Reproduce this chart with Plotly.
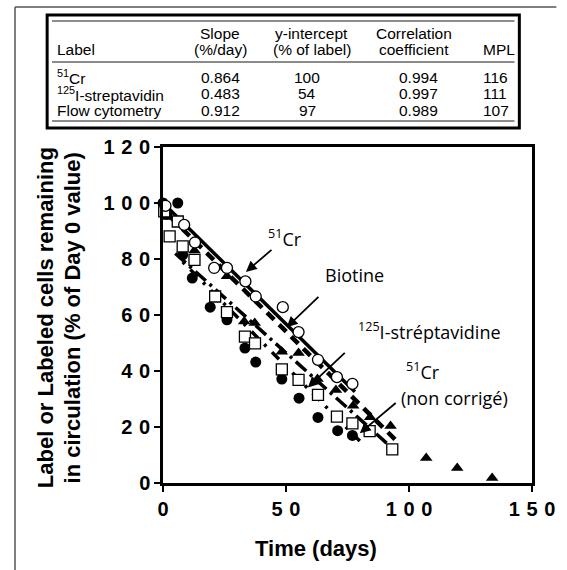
import plotly.graph_objects as go

# ---------------- data ----------------
cr_x = [1, 8.6, 13, 20.8, 26, 33.5, 37.7, 48.7, 55.1, 63, 70.7, 77]
cr_y = [99, 92.2, 85.9, 76.8, 76.8, 72, 66.6, 62.8, 53.9, 44, 37.8, 35.4]
bio_x = [0.5, 2, 12.8, 26, 33, 37.3, 48.3, 55.1, 62.8, 70.3, 77.3, 84.2, 92.5, 107, 119.6, 133.8]
bio_y = [99, 95, 83, 73.8, 57.7, 57.1, 46.9, 46.4, 37.1, 33.2, 27.6, 23.5, 20.4, 8.9, 5.4, 1.8]
sa_x = [0.5, 2.7, 6, 8, 12.8, 21.2, 26, 33.3, 37.4, 48.3, 55.1, 63, 70.7, 77, 84, 93.2]
sa_y = [97, 88.1, 93.4, 84.5, 79.7, 66.6, 61, 52.3, 49.9, 40.6, 36.8, 31.5, 23.7, 21.3, 18.5, 12]
nc_x = [0, 1.5, 6, 8, 11.9, 19.2, 26, 33.3, 37.7, 48.3, 55.3, 63, 71, 77]
nc_y = [100, 96, 100, 81.5, 73.2, 62.8, 58.3, 48.2, 43.2, 37.1, 30.3, 23.4, 18.7, 17]

# regression lines (end points)
cr_fit_x, cr_fit_y = [0, 78], [100, 32.6]
bio_fit_x, bio_fit_y = [3, 95], [95, 15]
sa_fit_x, sa_fit_y = [5, 95], [82, 11]
nc_fit_x, nc_fit_y = [8, 80], [79, 15]

x_ticks = [0, 50, 100, 150]
y_ticks = [0, 20, 40, 60, 80, 100, 120]

tbl_head1 = ["", "Slope", "y-intercept", "Correlation", ""]
tbl_head2 = ["Label", "(%/day)", "(% of label)", "coefficient", "MPL"]
tbl_labels = ["<sup>51</sup>Cr", "<sup>125</sup>I-streptavidin", "Flow cytometry"]
tbl_slope = ["0.864", "0.483", "0.912"]
tbl_intercept = ["100", "54", "97"]
tbl_corr = ["0.994", "0.997", "0.989"]
tbl_mpl = ["116", "111", "107"]

# ---------------- layout helpers ----------------
FW, FH = 567, 570
L, T, W, H = 163, 147, 379, 336


def px(x):
    return (x - L) / W


def py(y):
    return (T + H - y) / H


def spaced(s):
    return "\u2004".join(list(s))


fig = go.Figure()

fig.add_trace(go.Scatter(x=cr_fit_x, y=cr_fit_y, mode="lines",
                         line=dict(color="black", width=3.5), showlegend=False))
fig.add_trace(go.Scatter(x=bio_fit_x, y=bio_fit_y, mode="lines",
                         line=dict(color="black", width=4.5, dash="10px,7px"), showlegend=False))
fig.add_trace(go.Scatter(x=sa_fit_x, y=sa_fit_y, mode="lines",
                         line=dict(color="black", width=3.5, dash="14px,5px,3px,5px"), showlegend=False))
fig.add_trace(go.Scatter(x=nc_fit_x, y=nc_fit_y, mode="lines",
                         line=dict(color="black", width=3.5, dash="3px,8px,10px,8px"), showlegend=False))

fig.add_trace(go.Scatter(x=nc_x, y=nc_y, mode="markers", cliponaxis=False,
                         marker=dict(symbol="circle", size=11, color="black"), showlegend=False))
fig.add_trace(go.Scatter(x=bio_x, y=bio_y, mode="markers", cliponaxis=False,
                         marker=dict(symbol="triangle-up", size=11, color="black"), showlegend=False))
fig.add_trace(go.Scatter(x=sa_x, y=sa_y, mode="markers", cliponaxis=False,
                         marker=dict(symbol="square", size=11, color="white",
                                     line=dict(color="black", width=1.3)), showlegend=False))
fig.add_trace(go.Scatter(x=cr_x, y=cr_y, mode="markers", cliponaxis=False,
                         marker=dict(symbol="circle", size=11, color="white",
                                     line=dict(color="black", width=1.3)), showlegend=False))

tickfont = dict(family="Liberation Sans", size=20, color="black", weight="bold")
axis_common = dict(showline=True, linecolor="black", linewidth=2.5, mirror=True,
                   ticks="outside", ticklen=6, tickwidth=2, tickcolor="black",
                   showgrid=False, zeroline=False, tickfont=tickfont)

fig.update_layout(
    width=FW, height=FH,
    margin=dict(l=L, r=FW - L - W, t=T, b=FH - T - H),
    paper_bgcolor="white", plot_bgcolor="white",
    xaxis=dict(range=[0, 150], tickvals=x_ticks, ticktext=[spaced(str(v)) for v in x_ticks],
               **axis_common),
    yaxis=dict(range=[0, 120], tickvals=y_ticks, ticktext=[spaced(str(v)) for v in y_ticks],
               **axis_common),
)

ann = []
shapes = []

# axis titles
title_font = dict(family="Liberation Sans", size=22, color="black", weight="bold")
ann.append(dict(text="Time (days)", x=px(320), y=py(548), xref="paper", yref="paper",
                showarrow=False, font=title_font, xanchor="center", yanchor="middle"))
ytitle_font = dict(family="Liberation Sans", size=22, color="black", weight="bold")
ann.append(dict(text="Label or Labeled cells remaining", x=px(42), y=py(318), xref="paper",
                yref="paper", showarrow=False, textangle=-90, font=ytitle_font,
                xanchor="center", yanchor="middle"))
ann.append(dict(text="in circulation (% of Day 0 value)", x=px(70), y=py(318), xref="paper",
                yref="paper", showarrow=False, textangle=-90, font=ytitle_font,
                xanchor="center", yanchor="middle"))

# in-plot labels
lab_font = dict(family="Open Sans", size=18, color="black")
ann.append(dict(text="<sup>51</sup>Cr", x=49.6, y=87.5, showarrow=False, font=lab_font))
ann.append(dict(text="Biotine", x=78, y=74.2, showarrow=False, font=lab_font))
ann.append(dict(text="<sup>125</sup>I-stréptavidine", x=78.5, y=54.3, xanchor="left",
                showarrow=False, font=lab_font))
ann.append(dict(text="<sup>51</sup>Cr", x=105.8, y=40, showarrow=False, font=lab_font))
ann.append(dict(text="(non corrigé)", x=118.5, y=30.3, showarrow=False, font=lab_font))

arrows = [((44.7, 83.7), (33.7, 75.4)), ((63.8, 67), (50.3, 55.6)),
          ((74.5, 47), (58.9, 34.1)), ((95.2, 29), (80, 17.8))]
for (tx, ty), (hx, hy) in arrows:
    ann.append(dict(x=hx, y=hy, ax=tx, ay=ty, axref="x", ayref="y", xref="x", yref="y",
                    text="", showarrow=True, arrowhead=2, arrowsize=1.2, arrowwidth=1.8,
                    arrowcolor="black"))

# outer frame
shapes.append(dict(type="line", xref="paper", yref="paper", x0=px(11), x1=px(567),
                   y0=py(7), y1=py(7), line=dict(color="#555555", width=1.5)))
shapes.append(dict(type="line", xref="paper", yref="paper", x0=px(11), x1=px(11),
                   y0=py(7), y1=py(570), line=dict(color="#555555", width=1.5)))

# table
TL, TR, TT, TB = 44, 529, 15, 128
shapes.append(dict(type="rect", xref="paper", yref="paper", x0=px(TL), x1=px(TR),
                   y0=py(TT), y1=py(TB), line=dict(color="black", width=3)))
for yy in [21, 62, 121]:
    shapes.append(dict(type="line", xref="paper", yref="paper", x0=px(TL + 5), x1=px(TR - 5),
                       y0=py(yy), y1=py(yy), line=dict(color="#666666", width=1.5)))

tfont = dict(family="Liberation Sans", size=15.5, color="black")
col_x = [52, 222, 316, 421, 490]
col_anchor = ["left", "center", "center", "center", "left"]
for i in range(5):
    if tbl_head1[i]:
        ann.append(dict(text=tbl_head1[i], x=px(col_x[i]), y=py(33), xref="paper", yref="paper",
                        showarrow=False, font=tfont, xanchor=col_anchor[i], yanchor="middle"))
    ann.append(dict(text=tbl_head2[i], x=px(col_x[i]), y=py(50), xref="paper", yref="paper",
                    showarrow=False, font=tfont, xanchor=col_anchor[i], yanchor="middle"))
row_y = [77, 94, 111]
num_x = [222, 311, 425, 490]
for r in range(3):
    ann.append(dict(text=tbl_labels[r], x=px(52), y=py(row_y[r]), xref="paper", yref="paper",
                    showarrow=False, font=tfont, xanchor="left", yanchor="middle"))
    vals = [tbl_slope[r], tbl_intercept[r], tbl_corr[r], tbl_mpl[r]]
    for c in range(4):
        ann.append(dict(text=vals[c], x=px(num_x[c]), y=py(row_y[r]), xref="paper",
                        yref="paper", showarrow=False, font=tfont,
                        xanchor="left" if c == 3 else "center", yanchor="middle"))

fig.update_layout(annotations=ann, shapes=shapes)
fig.write_html("out.html")
